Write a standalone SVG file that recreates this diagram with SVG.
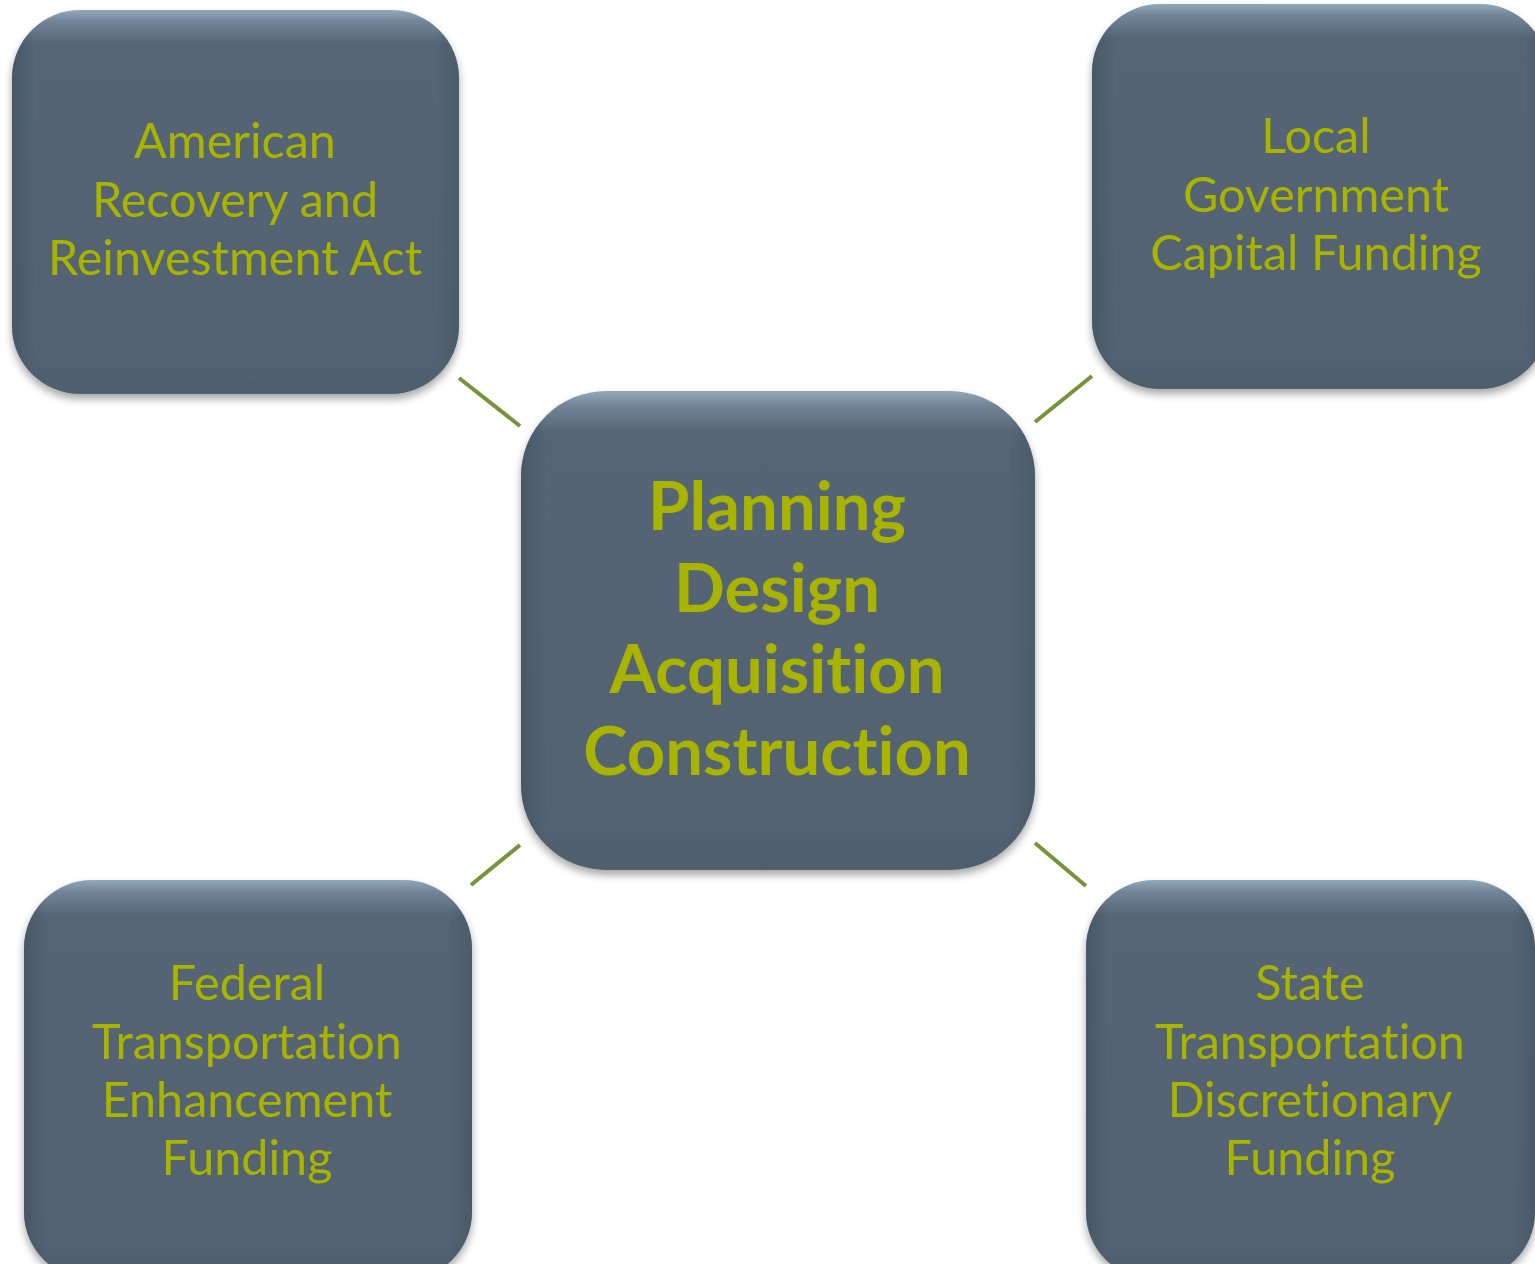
<svg xmlns="http://www.w3.org/2000/svg" width="1535" height="1264" viewBox="0 0 1535 1264">
<style>
.box{filter:url(#sh)}
.t{font-family:Lato,"Open Sans",sans-serif;font-size:48.5px;fill:#a9b400;text-anchor:middle;font-variant-ligatures:none;font-feature-settings:"liga" 0}
.tb{font-family:Lato,"Open Sans",sans-serif;font-size:67px;font-weight:bold;fill:#a9b400;text-anchor:middle;font-variant-ligatures:none;font-feature-settings:"liga" 0}
.c{stroke:#77933c;stroke-width:4;fill:none}
</style>
<defs>
<linearGradient id="g" x1="0" y1="0" x2="0" y2="1">
<stop offset="0" stop-color="#93a8ba"/>
<stop offset="0.03" stop-color="#728598"/>
<stop offset="0.09" stop-color="#546574"/>
<stop offset="0.9" stop-color="#536372"/>
<stop offset="1" stop-color="#4e5e6c"/>
</linearGradient>
<linearGradient id="gh" x1="0" y1="0" x2="1" y2="0">
<stop offset="0" stop-color="#3c4a57" stop-opacity="0.5"/>
<stop offset="0.05" stop-color="#3c4a57" stop-opacity="0"/>
<stop offset="0.95" stop-color="#3c4a57" stop-opacity="0"/>
<stop offset="1" stop-color="#3c4a57" stop-opacity="0.4"/>
</linearGradient>
<filter id="sh" x="-10%" y="-10%" width="120%" height="125%">
<feGaussianBlur in="SourceAlpha" stdDeviation="4"/>
<feOffset dx="0" dy="5" result="b"/>
<feComponentTransfer><feFuncA type="linear" slope="0.35"/></feComponentTransfer>
<feMerge><feMergeNode/><feMergeNode in="SourceGraphic"/></feMerge>
</filter>
</defs>
<rect width="1535" height="1264" fill="#fff"/>
<g id="connectors">
<line class="c" x1="459" y1="378" x2="520" y2="426"/>
<line class="c" x1="1035" y1="422" x2="1092" y2="376"/>
<line class="c" x1="471" y1="885" x2="520" y2="845"/>
<line class="c" x1="1035" y1="843" x2="1086" y2="886"/>
</g>
<g id="node-arra">
<g class="box"><rect x="12" y="10" width="447" height="384" rx="68" fill="url(#g)"/><rect x="12" y="10" width="447" height="384" rx="68" fill="url(#gh)"/></g>
<text class="t" x="235" y="158">American</text>
<text class="t" x="235" y="217">Recovery and</text>
<text class="t" x="235" y="275">Reinvestment Act</text>
</g>
<g id="node-local">
<g class="box"><rect x="1092" y="4" width="456" height="385" rx="68" fill="url(#g)"/><rect x="1092" y="4" width="456" height="385" rx="68" fill="url(#gh)"/></g>
<text class="t" x="1316" y="153">Local</text>
<text class="t" x="1316" y="212">Government</text>
<text class="t" x="1316" y="270">Capital Funding</text>
</g>
<g id="node-center">
<g class="box"><rect x="521" y="391" width="514" height="479" rx="85" fill="url(#g)"/><rect x="521" y="391" width="514" height="479" rx="85" fill="url(#gh)"/></g>
<text class="tb" x="777" y="530">Planning</text>
<text class="tb" x="777" y="612">Design</text>
<text class="tb" x="777" y="693">Acquisition</text>
<text class="tb" x="777" y="775">Construction</text>
</g>
<g id="node-federal">
<g class="box"><rect x="24" y="880" width="448" height="400" rx="68" fill="url(#g)"/><rect x="24" y="880" width="448" height="400" rx="68" fill="url(#gh)"/></g>
<text class="t" x="247" y="1000">Federal</text>
<text class="t" x="247" y="1059">Transportation</text>
<text class="t" x="247" y="1117">Enhancement</text>
<text class="t" x="247" y="1175">Funding</text>
</g>
<g id="node-state">
<g class="box"><rect x="1086" y="880" width="449" height="400" rx="68" fill="url(#g)"/><rect x="1086" y="880" width="449" height="400" rx="68" fill="url(#gh)"/></g>
<text class="t" x="1310" y="1000">State</text>
<text class="t" x="1310" y="1059">Transportation</text>
<text class="t" x="1310" y="1117">Discretionary</text>
<text class="t" x="1310" y="1175">Funding</text>
</g>
</svg>
